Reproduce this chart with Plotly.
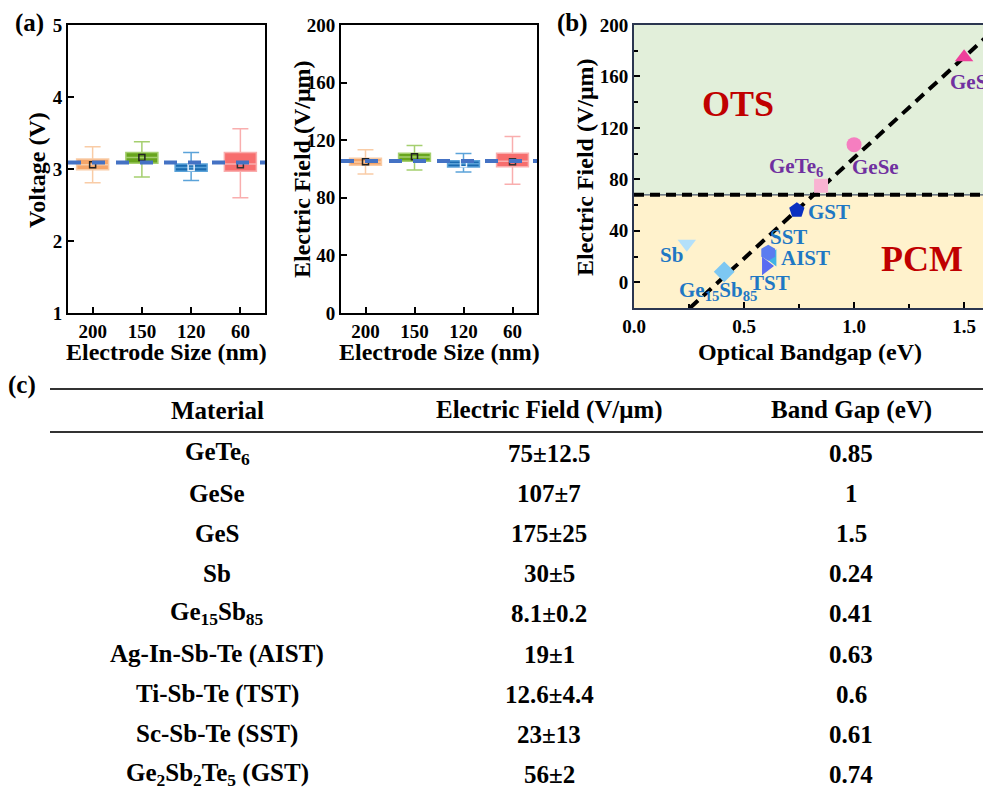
import plotly.graph_objects as go

W, H = 983, 791
FONT = "Liberation Serif"

# ---------------- panel (a) data ----------------
sizes = ["200", "150", "120", "60"]
volt_lower = [2.81, 2.89, 2.84, 2.60]
volt_q1 = [2.99, 3.08, 2.97, 2.97]
volt_median = [3.06, 3.16, 3.02, 3.07]
volt_q3 = [3.14, 3.23, 3.07, 3.23]
volt_upper = [3.31, 3.38, 3.23, 3.56]
volt_mean = [3.06, 3.16, 3.02, 3.06]
volt_ref = 3.09

field_lower = [96.5, 99.3, 98.0, 89.4]
field_q1 = [102.6, 105.3, 101.4, 101.6]
field_median = [104.9, 108.3, 103.7, 105.3]
field_q3 = [107.4, 110.9, 105.8, 110.9]
field_upper = [113.4, 116.3, 110.7, 122.5]
field_mean = [105.0, 108.5, 103.7, 105.0]
field_ref = 105.6

# ---------------- panel (b) data ----------------
materials = ["GeTe<sub>6</sub>", "GeSe", "GeS", "Sb", "Ge<sub>15</sub>Sb<sub>85</sub>",
             "AIST", "TST", "SST", "GST"]
bandgap = [0.85, 1.0, 1.5, 0.24, 0.41, 0.63, 0.6, 0.61, 0.74]
efield = [75, 107, 175, 30, 8.1, 19, 12.6, 23, 56]
threshold = 68
fit_x = [0.254, 1.62]
fit_y = [-20, 193.7]

# ---------------- panel (c) table data ----------------
table_header = ["Material", "Electric Field (V/μm)", "Band Gap (eV)"]
table_material = ["GeTe<sub>6</sub>", "GeSe", "GeS", "Sb", "Ge<sub>15</sub>Sb<sub>85</sub>",
                  "Ag-In-Sb-Te (AIST)", "Ti-Sb-Te (TST)", "Sc-Sb-Te (SST)",
                  "Ge<sub>2</sub>Sb<sub>2</sub>Te<sub>5</sub> (GST)"]
table_field = ["75±12.5", "107±7", "175±25", "30±5", "8.1±0.2", "19±1", "12.6±4.4", "23±13", "56±2"]
table_gap = ["0.85", "1", "1.5", "0.24", "0.41", "0.63", "0.6", "0.61", "0.74"]

# ---------------- styles ----------------
box_fill = ["#F5A66A", "#68A51E", "#1A6BB0", "#F76E6E"]
box_line = ["#F9CCA6", "#A5CF6F", "#5BA3D9", "#F9AEAE"]
mean_color = ["#222222", "#222222", "#EAF2FA", "#333333"]

m_symbols = ["square", "circle", "triangle-up", "triangle-down", "diamond",
             "triangle-left", "triangle-right", "hexagon", "pentagon"]
m_colors = ["#F9B3D2", "#F57EC0", "#EE3F9B", "#B3E0FA", "#7DC7F2",
            "#3FB2E6", "#5A6CF2", "#5B7CF0", "#0A2FC0"]
m_sizes = [14, 15, 16, 16, 16, 15, 16, 16, 16]
PURPLE, BLUE = "#7030A0", "#1F78C4"
lab_colors = [PURPLE, PURPLE, PURPLE, BLUE, BLUE, BLUE, BLUE, BLUE, BLUE]
lab_style = [("right", 4, 19), ("left", -4, -22), ("left", -16, -25), ("right", -2, -11),
             ("center", -6, -19), ("left", 6, 0), ("center", 4, -17), ("left", 0, 16),
             ("left", 9, -2)]


def fx(px):
    return px / W


def fy(py):
    return 1 - py / H


fig = go.Figure()

# ---- panel (a) boxes ----
for axx, axy, lo_, q1_, md_, q3_, hi_, mn_ in [
    ("x", "y", volt_lower, volt_q1, volt_median, volt_q3, volt_upper, volt_mean),
    ("x2", "y2", field_lower, field_q1, field_median, field_q3, field_upper, field_mean),
]:
    for k in range(len(sizes)):
        fig.add_trace(go.Box(
            x=[k], lowerfence=[lo_[k]], q1=[q1_[k]], median=[md_[k]], q3=[q3_[k]],
            upperfence=[hi_[k]], fillcolor=box_fill[k],
            line=dict(color=box_line[k], width=1.5), width=0.65, whiskerwidth=0.5,
            boxpoints=False, xaxis=axx, yaxis=axy, showlegend=False, hoverinfo="skip"))
    fig.add_trace(go.Scatter(
        x=list(range(len(sizes))), y=mn_, mode="markers", xaxis=axx, yaxis=axy,
        marker=dict(symbol="square-open", size=6, color=mean_color, line=dict(width=1.5)),
        showlegend=False, hoverinfo="skip"))

# ---- panel (b) ----
fig.add_trace(go.Scatter(x=fit_x, y=fit_y, mode="lines", xaxis="x3", yaxis="y3",
                         line=dict(color="black", width=4, dash="11px,7px"),
                         showlegend=False, hoverinfo="skip"))
fig.add_trace(go.Scatter(x=bandgap, y=efield, mode="markers", xaxis="x3", yaxis="y3",
                         marker=dict(symbol=m_symbols, color=m_colors, size=m_sizes,
                                     opacity=1, line=dict(width=0)),
                         cliponaxis=False, showlegend=False, hoverinfo="skip"))

shapes = []
for yref_, ref in [("y", volt_ref), ("y2", field_ref)]:
    xr = "x domain" if yref_ == "y" else "x2 domain"
    shapes.append(dict(type="line", xref=xr, x0=0, x1=1, yref=yref_, y0=ref, y1=ref,
                       line=dict(color="#4472C4", width=4, dash="13px,11px"), layer="above"))
shapes += [
    dict(type="rect", xref="x3 domain", x0=0, x1=1, yref="y3", y0=threshold, y1=200,
         fillcolor="#E2EFDA", line=dict(width=0), layer="below"),
    dict(type="rect", xref="x3 domain", x0=0, x1=1, yref="y3", y0=-20, y1=threshold,
         fillcolor="#FFF2CC", line=dict(width=0), layer="below"),
    dict(type="line", xref="x3 domain", x0=0, x1=1, yref="y3", y0=threshold, y1=threshold,
         line=dict(color="#44546A", width=1.2), layer="below"),
    dict(type="line", xref="x3 domain", x0=0, x1=1, yref="y3", y0=threshold, y1=threshold,
         line=dict(color="black", width=4, dash="10px,6px"), layer="below"),
]

# table lines
for ly in [389, 432]:
    shapes.append(dict(type="line", xref="paper", yref="paper", x0=fx(50), x1=1,
                       y0=fy(ly), y1=fy(ly), line=dict(color="#333333", width=2)))

ann = []


def txt(x, y, text, size, color="black", angle=0, xanchor="center", yanchor="middle"):
    ann.append(dict(x=x, y=y, xref="paper", yref="paper", text=text, showarrow=False,
                    textangle=angle, xanchor=xanchor, yanchor=yanchor,
                    font=dict(family=FONT, size=size, color=color, weight="bold")))


# panel labels
txt(fx(29), fy(23), "(a)", 25)
txt(fx(572), fy(23), "(b)", 25)
txt(fx(6), fy(385), "(c)", 25, xanchor="left")

# axis titles
txt(fx(37), fy(170), "Voltage (V)", 24, angle=-90)
txt(fx(302), fy(169), "Electric Field (V/μm)", 24, angle=-90)
txt(fx(166), fy(352), "Electrode Size (nm)", 24)
txt(fx(439), fy(352), "Electrode Size (nm)", 24)
txt(fx(585), fy(167), "Electric Field (V/μm)", 24, angle=-90)
txt(fx(810), fy(352), "Optical Bandgap (eV)", 24)

# region labels
txt(fx(738), fy(104), "OTS", 36, color="#C00000")
txt(fx(922), fy(259), "PCM", 36, color="#C00000")

# marker labels
for k, lab in enumerate(materials):
    xa, xs, ys = lab_style[k]
    ann.append(dict(x=bandgap[k], y=efield[k], xref="x3", yref="y3", text=lab,
                    showarrow=False, xanchor=xa, yanchor="middle", xshift=xs, yshift=ys,
                    font=dict(family=FONT, size=21, color=lab_colors[k], weight="bold")))

# table text
col_x = [217, 549, 851]
for c, h in enumerate(table_header):
    txt(fx(col_x[c]), fy(410), h, 25)
for r in range(len(table_material)):
    yy = 453 + r * 40.2
    for c, col in enumerate([table_material, table_field, table_gap]):
        txt(fx(col_x[c]), fy(yy), col[r], 25)

axis_common = dict(showline=True, linewidth=2, linecolor="black", mirror=True,
                   ticks="inside", ticklen=6, tickwidth=2, tickcolor="black",
                   showgrid=False, zeroline=False, automargin=False,
                   tickfont=dict(family=FONT, size=19, color="black", weight="bold"))

fig.update_layout(
    width=W, height=H, margin=dict(l=0, r=0, t=0, b=0),
    paper_bgcolor="white", plot_bgcolor="white", showlegend=False,
    boxmode="overlay",
    xaxis=dict(domain=[fx(68), fx(265)], range=[-0.5, 3.5], tickvals=list(range(4)),
               ticktext=sizes, anchor="y", **axis_common),
    yaxis=dict(domain=[fy(313), fy(25)], range=[1, 5], dtick=1, anchor="x", **axis_common),
    xaxis2=dict(domain=[fx(341), fx(537)], range=[-0.5, 3.5], tickvals=list(range(4)),
                ticktext=sizes, anchor="y2", **axis_common),
    yaxis2=dict(domain=[fy(313), fy(25)], range=[0, 200], dtick=40, anchor="x2",
                **axis_common),
    xaxis3=dict(domain=[fx(634), 1], range=[0, 1.586], dtick=0.5, tickformat=".1f",
                anchor="y3",
                minor=dict(ticks="inside", dtick=0.25, ticklen=4, tickwidth=1.5,
                           tickcolor="black"),
                **{**axis_common, "linecolor": "#2B3650"}),
    yaxis3=dict(domain=[fy(308), fy(25)], range=[-20, 200], tick0=0, dtick=40, anchor="x3",
                minor=dict(ticks="inside", dtick=20, ticklen=4, tickwidth=1.5,
                           tickcolor="black"),
                **{**axis_common, "linecolor": "#2B3650", "mirror": False}),
    shapes=shapes, annotations=ann,
)

fig.write_html("out.html")
